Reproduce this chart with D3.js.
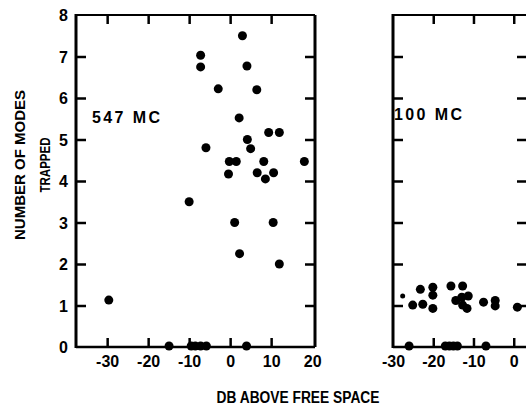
<!DOCTYPE html>
<html>
<head>
<meta charset="utf-8">
<script src="https://cdn.jsdelivr.net/npm/d3@7"></script>
<style>
  html, body { margin: 0; padding: 0; background: #fff; }
  svg { display: block; }
  .tick text { font-family: 'Liberation Sans', Arial, sans-serif; font-weight: bold; font-size: 16px; fill: #000; }
  .tick line { stroke: #000; stroke-width: 2.5; }
  .lbl { font-family: 'Liberation Sans', Arial, sans-serif; font-weight: bold; fill: #000; }
</style>
</head>
<body>
<svg id="chart" width="526" height="409"></svg>
<script>
// ── DATA ────────────────────────────────────────────────────────────────
const yTicks = [0, 1, 2, 3, 4, 5, 6, 7, 8];

// 547 MC panel
const xTicks547 = [-30, -20, -10, 0, 10, 20];
const db547    = [3, -7.2, -7.2, 4.1, -2.9, 6.5, 2.2, 9.4, 12, 4.2, -5.9, 5,
                  -0.2, 1.5, 8.2, 18.1, -0.4, 6.6, 10.6, 8.6, -10, 1.1, 10.5,
                  2.3, 12, -29.6, -14.9, -9.5, -8.5, -7.2, -5.8, 4];
const modes547 = [7.5, 7.03, 6.75, 6.77, 6.22, 6.2, 5.52, 5.17, 5.17, 5.0, 4.8, 4.78,
                  4.47, 4.47, 4.47, 4.47, 4.17, 4.2, 4.2, 4.05, 3.5, 3.0, 3.0,
                  2.25, 2.0, 1.13, 0, 0, 0, 0, 0, 0];

// 100 MC panel
const xTicks100 = [-30, -20, -10, 0];
const db100    = [-27.6, -25.1, -22.6, -23.2, -20.1, -20.1, -20.1, -15.6, -12.7,
                  -14.4, -12.9, -11.3, -12.7, -11.6, -7.5, -4.6, -4.6, 0.9,
                  -26, -17, -16, -15, -14, -6.9];
const modes100 = [1.23, 1.01, 1.03, 1.39, 1.44, 1.25, 0.93, 1.47, 1.47,
                  1.12, 1.2, 1.23, 1.01, 0.93, 1.08, 1.12, 0.99, 0.96,
                  0, 0, 0, 0, 0, 0];
const small100 = [true].concat(new Array(db100.length - 1).fill(false));

// ── CHART ───────────────────────────────────────────────────────────────
const svg = d3.select('#chart');
svg.append('rect').attr('width', 526).attr('height', 409).attr('fill', '#fff');

const y = d3.scaleLinear().domain([0, 8]).range([347, 15]);
const fmt = d => String(d);   // plain hyphen, like the original lettering

function panel(opts) {
  const x = d3.scaleLinear().domain(opts.domain).range(opts.range);
  const g = svg.append('g');
  const [x0, x1] = opts.range;
  const yTop = y(8), yBot = y(0);

  // bottom axis (ticks inward, labels below)
  g.append('g').attr('transform', `translate(0,${yBot})`)
    .call(d3.axisBottom(x).tickValues(opts.xTicks).tickSizeInner(-9).tickSizeOuter(0)
      .tickPadding(9).tickFormat(fmt))
    .call(a => a.select('.domain').remove())
    .call(a => a.selectAll('.tick line').filter(d => opts.noTick.includes(d)).remove());

  // top ticks
  g.append('g').attr('transform', `translate(0,${yTop})`)
    .call(d3.axisTop(x).tickValues(opts.xTicks.filter(d => !opts.noTick.includes(d)))
      .tickSizeInner(-9).tickSizeOuter(0).tickFormat(''))
    .call(a => a.select('.domain').remove());

  // left axis
  g.append('g').attr('transform', `translate(${x0},0)`)
    .call(d3.axisLeft(y).tickValues(opts.yLabels ? yTicks : yTicks.slice(1, 8))
      .tickSizeInner(-10).tickSizeOuter(0).tickPadding(8)
      .tickFormat(opts.yLabels ? fmt : ''))
    .call(a => a.select('.domain').remove())
    .call(a => a.selectAll('.tick line').filter(d => d === 0 || d === 8).remove())
    .call(a => a.selectAll('.tick text').attr('dy', '0.36em'));

  // right ticks
  g.append('g').attr('transform', `translate(${x1},0)`)
    .call(d3.axisRight(y).tickValues(yTicks.slice(1, 8)).tickSizeInner(-10).tickSizeOuter(0).tickFormat(''))
    .call(a => a.select('.domain').remove());

  // frame
  g.append('line').attr('x1', x0).attr('x2', x0).attr('y1', yTop - 1).attr('y2', yBot + 1)
    .attr('stroke', '#000').attr('stroke-width', 3);
  g.append('line').attr('x1', x0).attr('x2', x1).attr('y1', yBot).attr('y2', yBot)
    .attr('stroke', '#000').attr('stroke-width', 2.5);
  g.append('line').attr('x1', x0).attr('x2', x1).attr('y1', yTop).attr('y2', yTop)
    .attr('stroke', '#000').attr('stroke-width', 2.2);
  g.append('line').attr('x1', x1).attr('x2', x1).attr('y1', yTop).attr('y2', yBot)
    .attr('stroke', '#000').attr('stroke-width', opts.rightW);

  // points
  g.selectAll('.pt').data(opts.xs.map((v, i) => ({ x: v, y: opts.ys[i], s: opts.small ? opts.small[i] : false })))
    .enter().append('circle')
    .attr('cx', d => x(d.x)).attr('cy', d => y(d.y) - (d.y === 0 ? 1 : 0))
    .attr('r', d => d.s ? 2.5 : 4.5)
    .attr('fill', '#000');

  // panel label
  g.append('text').attr('class', 'lbl')
    .attr('x', opts.label[1]).attr('y', opts.label[2])
    .attr('font-size', '16px').attr('letter-spacing', '2.4px')
    .text(opts.label[0]);
}

panel({
  domain: [-37.6, 20.7], range: [76, 315],
  xTicks: xTicks547, noTick: [20], yLabels: true, rightW: 3,
  xs: db547, ys: modes547,
  label: ['547 MC', 92, 123]
});

panel({
  domain: [-30, 3.3], range: [393, 527],
  xTicks: xTicks100, noTick: [-30], yLabels: false, rightW: 1.5,
  xs: db100, ys: modes100, small: small100,
  label: ['100 MC', 394, 120]
});

// axis titles
svg.append('text').attr('class', 'lbl')
  .attr('x', 298).attr('y', 403).attr('text-anchor', 'middle')
  .attr('font-size', '16px').attr('textLength', 163).attr('lengthAdjust', 'spacingAndGlyphs')
  .text('DB ABOVE FREE SPACE');

svg.append('text').attr('class', 'lbl')
  .attr('transform', 'translate(25,165) rotate(-90)').attr('text-anchor', 'middle')
  .attr('font-size', '14px').attr('textLength', 150).attr('lengthAdjust', 'spacingAndGlyphs')
  .text('NUMBER OF MODES');

svg.append('text').attr('class', 'lbl')
  .attr('transform', 'translate(50,165) rotate(-90)').attr('text-anchor', 'middle')
  .attr('font-size', '14px').attr('textLength', 55).attr('lengthAdjust', 'spacingAndGlyphs')
  .text('TRAPPED');
</script>
</body>
</html>
